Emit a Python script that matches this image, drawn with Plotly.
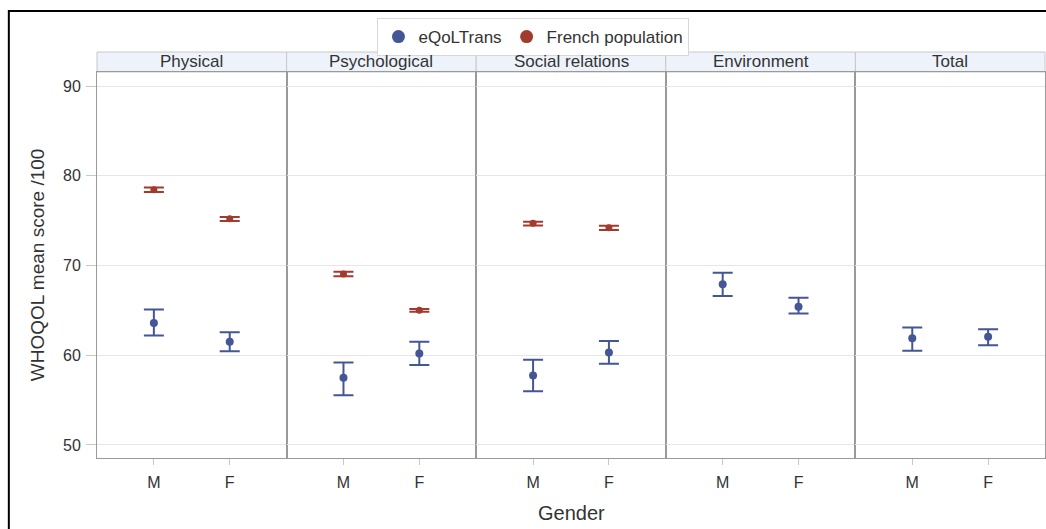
import plotly.graph_objects as go
from plotly.subplots import make_subplots

domains = ["Physical", "Psychological", "Social relations", "Environment", "Total"]
genders = ["M", "F"]

# eQoLTrans means and 95% CI bounds, per domain
eqol_M = [63.6, 57.5, 57.75, 67.9, 61.9]
eqol_M_low = [62.2, 55.55, 56.0, 66.6, 60.5]
eqol_M_high = [65.1, 59.2, 59.5, 69.2, 63.1]
eqol_F = [61.5, 60.2, 60.3, 65.4, 62.05]
eqol_F_low = [60.45, 58.9, 59.05, 64.65, 61.1]
eqol_F_high = [62.55, 61.5, 61.6, 66.4, 62.9]

# French population means and CI bounds (no Environment / Total)
fr_M = [78.45, 69.05, 74.7, None, None]
fr_M_low = [78.2, 68.8, 74.47, None, None]
fr_M_high = [78.7, 69.3, 74.88, None, None]
fr_F = [75.2, 65.0, 74.2, None, None]
fr_F_low = [74.95, 64.85, 73.95, None, None]
fr_F_high = [75.4, 65.15, 74.43, None, None]

BLUE = "#445694"
RED = "#A23A2E"
FONT = "Liberation Sans, Arial, sans-serif"
TXT = "#333333"
AXC = "#9a9a9a"

fig = make_subplots(rows=1, cols=5, shared_yaxes=True, horizontal_spacing=0)


def err(vals, lows, highs):
    plus = [None if v is None else h - v for v, h in zip(vals, highs)]
    minus = [None if v is None else v - l for v, l in zip(vals, lows)]
    return plus, minus


for i, d in enumerate(domains):
    col = i + 1
    ys = [eqol_M[i], eqol_F[i]]
    plus, minus = err(ys, [eqol_M_low[i], eqol_F_low[i]], [eqol_M_high[i], eqol_F_high[i]])
    fig.add_trace(go.Scatter(
        x=genders, y=ys, mode="markers", name="eQoLTrans",
        legendgroup="eq", showlegend=False,
        marker=dict(color=BLUE, size=8),
        error_y=dict(type="data", symmetric=False, array=plus, arrayminus=minus,
                     color=BLUE, thickness=2, width=10),
    ), row=1, col=col)
    if fr_M[i] is not None:
        ys = [fr_M[i], fr_F[i]]
        plus, minus = err(ys, [fr_M_low[i], fr_F_low[i]], [fr_M_high[i], fr_F_high[i]])
        fig.add_trace(go.Scatter(
            x=genders, y=ys, mode="markers", name="French population",
            legendgroup="fr", showlegend=False,
            marker=dict(color=RED, size=7),
            error_y=dict(type="data", symmetric=False, array=plus, arrayminus=minus,
                         color=RED, thickness=2, width=10),
        ), row=1, col=col)

# legend-only entries with larger symbols
for nm, c, g in [("eQoLTrans", BLUE, "eq"), ("French population", RED, "fr")]:
    fig.add_trace(go.Scatter(x=[None], y=[None], mode="markers", name=nm, legendgroup=g,
                             marker=dict(color=c, size=13), showlegend=True), row=1, col=1)

for i in range(5):
    fig.update_xaxes(
        type="category", categoryorder="array", categoryarray=genders,
        range=[-0.75, 1.75], showline=True, mirror=True, linecolor=AXC, linewidth=1,
        ticks="outside", ticklen=6, tickcolor="#c8c8c8", showgrid=False,
        ticklabelstandoff=4,
        tickfont=dict(family=FONT, size=16, color=TXT),
        row=1, col=i + 1)
    fig.update_yaxes(
        range=[48.55, 91.56], showline=True, mirror=True, linecolor=AXC, linewidth=1,
        showgrid=True, gridcolor="#e6e6e6", zeroline=False,
        tickvals=[50, 60, 70, 80, 90],
        ticks="outside" if i == 0 else "", ticklen=10, tickcolor="#c8c8c8",
        ticklabelstandoff=2,
        showticklabels=(i == 0),
        tickfont=dict(family=FONT, size=16, color=TXT),
        row=1, col=i + 1)

strip_h = 20 / 386
for i, d in enumerate(domains):
    xr = "x domain" if i == 0 else f"x{i+1} domain"
    fig.add_shape(type="rect", xref=xr, yref="paper", x0=0, x1=1, y0=1, y1=1 + strip_h,
                  fillcolor="#eef3fb", line=dict(color="#c8c8c8", width=1), layer="below")
    fig.add_annotation(text=d, xref=xr, yref="paper", x=0.5, y=1 + strip_h / 2,
                       xanchor="center", yanchor="middle",
                       showarrow=False, font=dict(family=FONT, size=17, color=TXT))

fig.add_annotation(text="Gender", xref="paper", yref="paper", x=0.5, y=-0.143,
                   xanchor="center", yanchor="middle", showarrow=False,
                   font=dict(family=FONT, size=20, color=TXT))
fig.add_annotation(text="WHOQOL mean score /100", xref="paper", yref="paper",
                   x=-0.063, y=0.5, textangle=-90, xanchor="center", yanchor="middle",
                   showarrow=False, font=dict(family=FONT, size=19, color=TXT))

# outer black frame (left and top edges)
fig.add_shape(type="rect", xref="paper", yref="paper", x0=-0.093, x1=1.02, y0=-0.3, y1=1.158,
              line=dict(color="black", width=2), fillcolor="rgba(0,0,0,0)", layer="above")

fig.update_layout(
    width=1046, height=529,
    margin=dict(l=97, r=1, t=72, b=71),
    paper_bgcolor="white", plot_bgcolor="white",
    font=dict(family=FONT, color=TXT),
    legend=dict(orientation="h", xref="container", yref="container",
                x=0.51, xanchor="center", y=1 - 18 / 529, yanchor="top",
                bordercolor="#d8d8d8", borderwidth=1, bgcolor="white",
                font=dict(family=FONT, size=17, color=TXT),
                itemsizing="trace", tracegroupgap=0, traceorder="normal"),
)

fig.write_html("out.html", config={"displayModeBar": False},
               post_script="document.body.style.margin='0';")
